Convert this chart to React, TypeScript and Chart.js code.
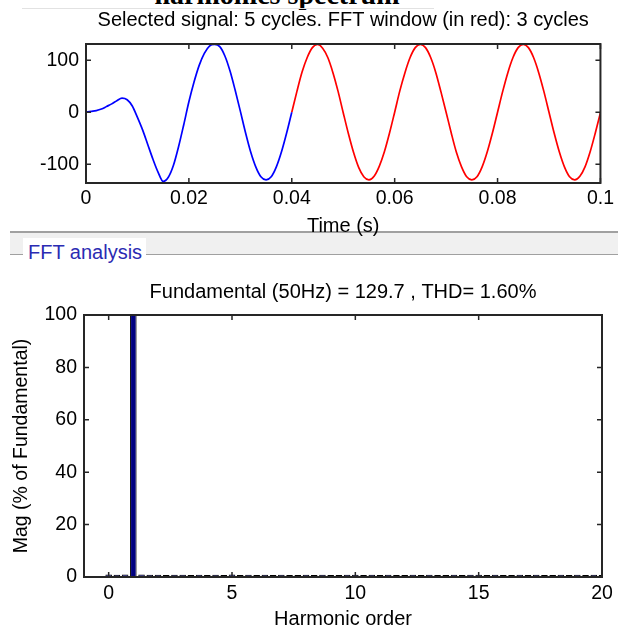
import React, { useEffect, useRef } from "react";
import { Chart, registerables } from "chart.js";
Chart.register(...registerables);

// ---------- data ----------
const timeMs = [
  0, 1, 2, 3, 4, 5, 6, 7, 8, 9, 10, 11, 12, 13, 14, 15, 16, 17, 18, 19, 20,
  21, 22, 23, 24, 25, 26, 27, 28, 29, 30, 31, 32, 33, 34, 35, 36, 37, 38, 39, 40,
  41, 42, 43, 44, 45, 46, 47, 48, 49, 50, 51, 52, 53, 54, 55, 56, 57, 58, 59, 60,
  61, 62, 63, 64, 65, 66, 67, 68, 69, 70, 71, 72, 73, 74, 75, 76, 77, 78, 79, 80,
  81, 82, 83, 84, 85, 86, 87, 88, 89, 90, 91, 92, 93, 94, 95, 96, 97, 98, 99, 100,
];
const signal = [
  0, 1.5, 3, 6, 11, 16, 22, 27, 24, 12, -10, -34, -62, -90, -115, -133, -125, -102, -66, -24, 20,
  58, 90, 113, 127, 130, 126, 108, 79, 42, 2, -39, -76, -105, -124, -130, -124, -105, -76, -40, 0,
  40, 77, 105, 124, 130, 123, 105, 76, 40, -1, -41, -77, -106, -124, -130, -123, -104, -76, -40, 0,
  41, 76, 105, 124, 130, 124, 105, 76, 39, 0, -40, -77, -105, -124, -130, -124, -105, -76, -40, 0,
  40, 76, 105, 124, 130, 124, 105, 76, 40, 0, -40, -76, -105, -124, -130, -123, -105, -76, -40, -1,
];
const fftWindowStartMs = 40;
const timeTicks = [0, 0.02, 0.04, 0.06, 0.08, 0.1];
const signalTicks = [-100, 0, 100];

const harmonicOrders = [
  0, 0.333, 0.667, 1, 1.333, 1.667, 2, 2.333, 2.667, 3, 3.333, 3.667, 4, 4.333, 4.667,
  5, 5.333, 5.667, 6, 6.333, 6.667, 7, 7.333, 7.667, 8, 8.333, 8.667, 9, 9.333, 9.667,
  10, 10.333, 10.667, 11, 11.333, 11.667, 12, 12.333, 12.667, 13, 13.333, 13.667, 14, 14.333, 14.667,
  15, 15.333, 15.667, 16, 16.333, 16.667, 17, 17.333, 17.667, 18, 18.333, 18.667, 19, 19.333, 19.667, 20,
];
const magnitudes = [
  1.0, 0.9, 1.0, 100, 1.0, 0.9, 0.9, 0.8, 0.9, 0.9, 0.8, 0.9, 0.8, 0.9, 0.8,
  1.0, 0.8, 0.9, 0.8, 0.9, 0.8, 0.9, 0.8, 0.8, 0.9, 0.8, 0.9, 0.8, 0.8, 0.9,
  0.9, 0.8, 0.9, 0.8, 0.9, 0.8, 0.8, 0.9, 0.8, 0.9, 0.8, 0.8, 0.9, 0.8, 0.9,
  0.9, 0.8, 0.9, 0.8, 0.8, 0.9, 0.8, 0.9, 0.8, 0.8, 0.9, 0.8, 0.9, 0.8, 0.9, 0.8,
];
const harmonicTicks = [0, 5, 10, 15, 20];
const magTicks = [0, 20, 40, 60, 80, 100];

const topTitle = "Selected signal: 5 cycles. FFT window (in red): 3 cycles";
const bottomTitle = "Fundamental (50Hz) = 129.7 , THD= 1.60%";

// ---------- styling ----------
const FONT = "'Liberation Sans', Arial, Helvetica, sans-serif";
const AXIS_COLOR = "#262626";

const frameTicks = {
  id: "frameTicks",
  afterDatasetsDraw(chart: any) {
    const { ctx, chartArea: a, scales } = chart;
    const xs = scales.x;
    const ys = scales.y;
    const L = 5;
    ctx.save();
    ctx.strokeStyle = AXIS_COLOR;
    ctx.lineWidth = 1.5;
    ctx.beginPath();
    xs.ticks.forEach((t: any) => {
      const px = xs.getPixelForValue(t.value);
      ctx.moveTo(px, a.bottom);
      ctx.lineTo(px, a.bottom - L);
      ctx.moveTo(px, a.top);
      ctx.lineTo(px, a.top + L);
    });
    ys.ticks.forEach((t: any) => {
      const py = ys.getPixelForValue(t.value);
      ctx.moveTo(a.left, py);
      ctx.lineTo(a.left + L, py);
      ctx.moveTo(a.right, py);
      ctx.lineTo(a.right - L, py);
    });
    ctx.stroke();
    ctx.lineWidth = 2;
    ctx.strokeRect(a.left, a.top, a.right - a.left, a.bottom - a.top);
    ctx.restore();
  },
};

function TopChart() {
  const ref = useRef<HTMLCanvasElement>(null);
  useEffect(() => {
    const blue: any[] = [];
    const red: any[] = [];
    timeMs.forEach((t, i) => {
      const p = { x: t / 1000, y: signal[i] };
      if (t <= fftWindowStartMs) blue.push(p);
      if (t >= fftWindowStartMs) red.push(p);
    });
    const chart = new Chart(ref.current!, {
      type: "line",
      data: {
        datasets: [
          { data: blue, borderColor: "#0000ff", borderWidth: 1.7, pointRadius: 0, cubicInterpolationMode: "monotone" },
          { data: red, borderColor: "#ff0000", borderWidth: 1.7, pointRadius: 0, cubicInterpolationMode: "monotone" },
        ],
      },
      options: {
        responsive: false,
        animation: false,
        layout: { padding: { left: 0, right: 16, top: 0, bottom: 0 } },
        plugins: {
          legend: { display: false },
          tooltip: { enabled: false },
          title: {
            display: true,
            text: topTitle,
            fullSize: false,
            color: "#000",
            font: { family: FONT, size: 20, weight: "normal" },
            padding: { top: 8, bottom: 12 },
          },
        },
        scales: {
          x: {
            type: "linear",
            min: 0,
            max: 0.1,
            grid: { display: false, drawTicks: false },
            border: { display: false },
            afterBuildTicks: (s: any) => {
              s.ticks = timeTicks.map((v) => ({ value: v }));
            },
            afterFit: (s: any) => {
              s.height = 64;
            },
            ticks: {
              color: "#000",
              padding: 4,
              maxRotation: 0,
              font: { family: FONT, size: 19.5 },
              callback: (v: any) => String(v),
            },
            title: {
              display: true,
              text: "Time (s)",
              color: "#000",
              font: { family: FONT, size: 20 },
              padding: { top: 0, bottom: 9 },
            },
          },
          y: {
            type: "linear",
            min: -136,
            max: 131,
            grid: { display: false, drawTicks: false },
            border: { display: false },
            afterBuildTicks: (s: any) => {
              s.ticks = signalTicks.map((v) => ({ value: v }));
            },
            afterFit: (s: any) => {
              s.width = 86;
            },
            ticks: {
              color: "#000",
              padding: 7,
              font: { family: FONT, size: 19.5 },
              callback: (v: any) => String(v),
            },
          },
        },
      },
      plugins: [frameTicks],
    } as any);
    return () => chart.destroy();
  }, []);
  return (
    <canvas
      ref={ref}
      width={618}
      height={247}
      style={{ position: "absolute", left: 0, top: 0, width: 618, height: 247 }}
    />
  );
}

function BottomChart() {
  const ref = useRef<HTMLCanvasElement>(null);
  useEffect(() => {
    const chart = new Chart(ref.current!, {
      type: "bar",
      data: {
        datasets: [
          {
            data: harmonicOrders.map((h, i) => ({ x: h, y: magnitudes[i] })),
            backgroundColor: "#000080",
            borderColor: "#000000",
            borderWidth: 1,
            borderSkipped: false,
            barPercentage: 0.8,
            categoryPercentage: 1,
          },
        ],
      },
      options: {
        responsive: false,
        animation: false,
        layout: { padding: { left: 0, right: 16, top: 0, bottom: 0 } },
        plugins: {
          legend: { display: false },
          tooltip: { enabled: false },
          title: {
            display: true,
            text: bottomTitle,
            fullSize: false,
            color: "#000",
            font: { family: FONT, size: 20, weight: "normal" },
            padding: { top: 18, bottom: 11 },
          },
        },
        scales: {
          x: {
            type: "linear",
            min: -1,
            max: 20,
            offset: false,
            grid: { display: false, drawTicks: false },
            border: { display: false },
            afterBuildTicks: (s: any) => {
              s.ticks = harmonicTicks.map((v) => ({ value: v }));
            },
            afterFit: (s: any) => {
              s.height = 53;
            },
            ticks: {
              color: "#000",
              padding: 5,
              maxRotation: 0,
              font: { family: FONT, size: 19.5 },
              callback: (v: any) => String(v),
            },
            title: {
              display: true,
              text: "Harmonic order",
              color: "#000",
              font: { family: FONT, size: 20, lineHeight: 1 },
              padding: { top: 0, bottom: 1 },
            },
          },
          y: {
            type: "linear",
            min: 0,
            max: 100,
            grid: { display: false, drawTicks: false },
            border: { display: false },
            afterBuildTicks: (s: any) => {
              s.ticks = magTicks.map((v) => ({ value: v }));
            },
            afterFit: (s: any) => {
              s.width = 84;
            },
            ticks: {
              color: "#000",
              padding: 7,
              font: { family: FONT, size: 19.5 },
              callback: (v: any) => String(v),
            },
            title: {
              display: true,
              text: "Mag (% of Fundamental)",
              color: "#000",
              font: { family: FONT, size: 19.5 },
              padding: { top: 10, bottom: 0 },
            },
          },
        },
      },
      plugins: [frameTicks],
    } as any);
    return () => chart.destroy();
  }, []);
  return (
    <canvas
      ref={ref}
      width={618}
      height={368}
      style={{ position: "absolute", left: 0, top: 262, width: 618, height: 368 }}
    />
  );
}

export default function App() {
  const abs = (s: any) => ({ position: "absolute" as const, ...s });
  return (
    <div
      style={{
        position: "absolute",
        left: 0,
        top: 0,
        width: 618,
        height: 630,
        background: "#fff",
        overflow: "hidden",
      }}
    >
      <div
        style={abs({
          left: 77,
          top: -19,
          width: 400,
          textAlign: "center",
          whiteSpace: "nowrap",
          fontFamily: "'Liberation Serif', 'Times New Roman', serif",
          fontWeight: "bold",
          fontSize: 28,
          lineHeight: "28px",
          color: "#000",
        })}
      >
        harmonics spectrum
      </div>
      <div style={abs({ left: 22, top: 8, width: 412, height: 1, background: "#e2e2e2" })} />
      <div style={abs({ left: 10, top: 233, width: 608, height: 21, background: "#f0f0f0" })} />
      <div style={abs({ left: 10, top: 231, width: 608, height: 2, background: "#a0a0a0" })} />
      <div style={abs({ left: 10, top: 253.5, width: 608, height: 1.7, background: "#a0a0a0" })} />
      <div style={abs({ left: 23, top: 238, width: 123, height: 24, background: "#fff" })} />
      <div
        style={abs({
          left: 28,
          top: 240,
          whiteSpace: "nowrap",
          fontFamily: FONT,
          fontSize: 20,
          lineHeight: "24px",
          color: "#2b2bb3",
        })}
      >
        FFT analysis
      </div>
      <TopChart />
      <BottomChart />
    </div>
  );
}
